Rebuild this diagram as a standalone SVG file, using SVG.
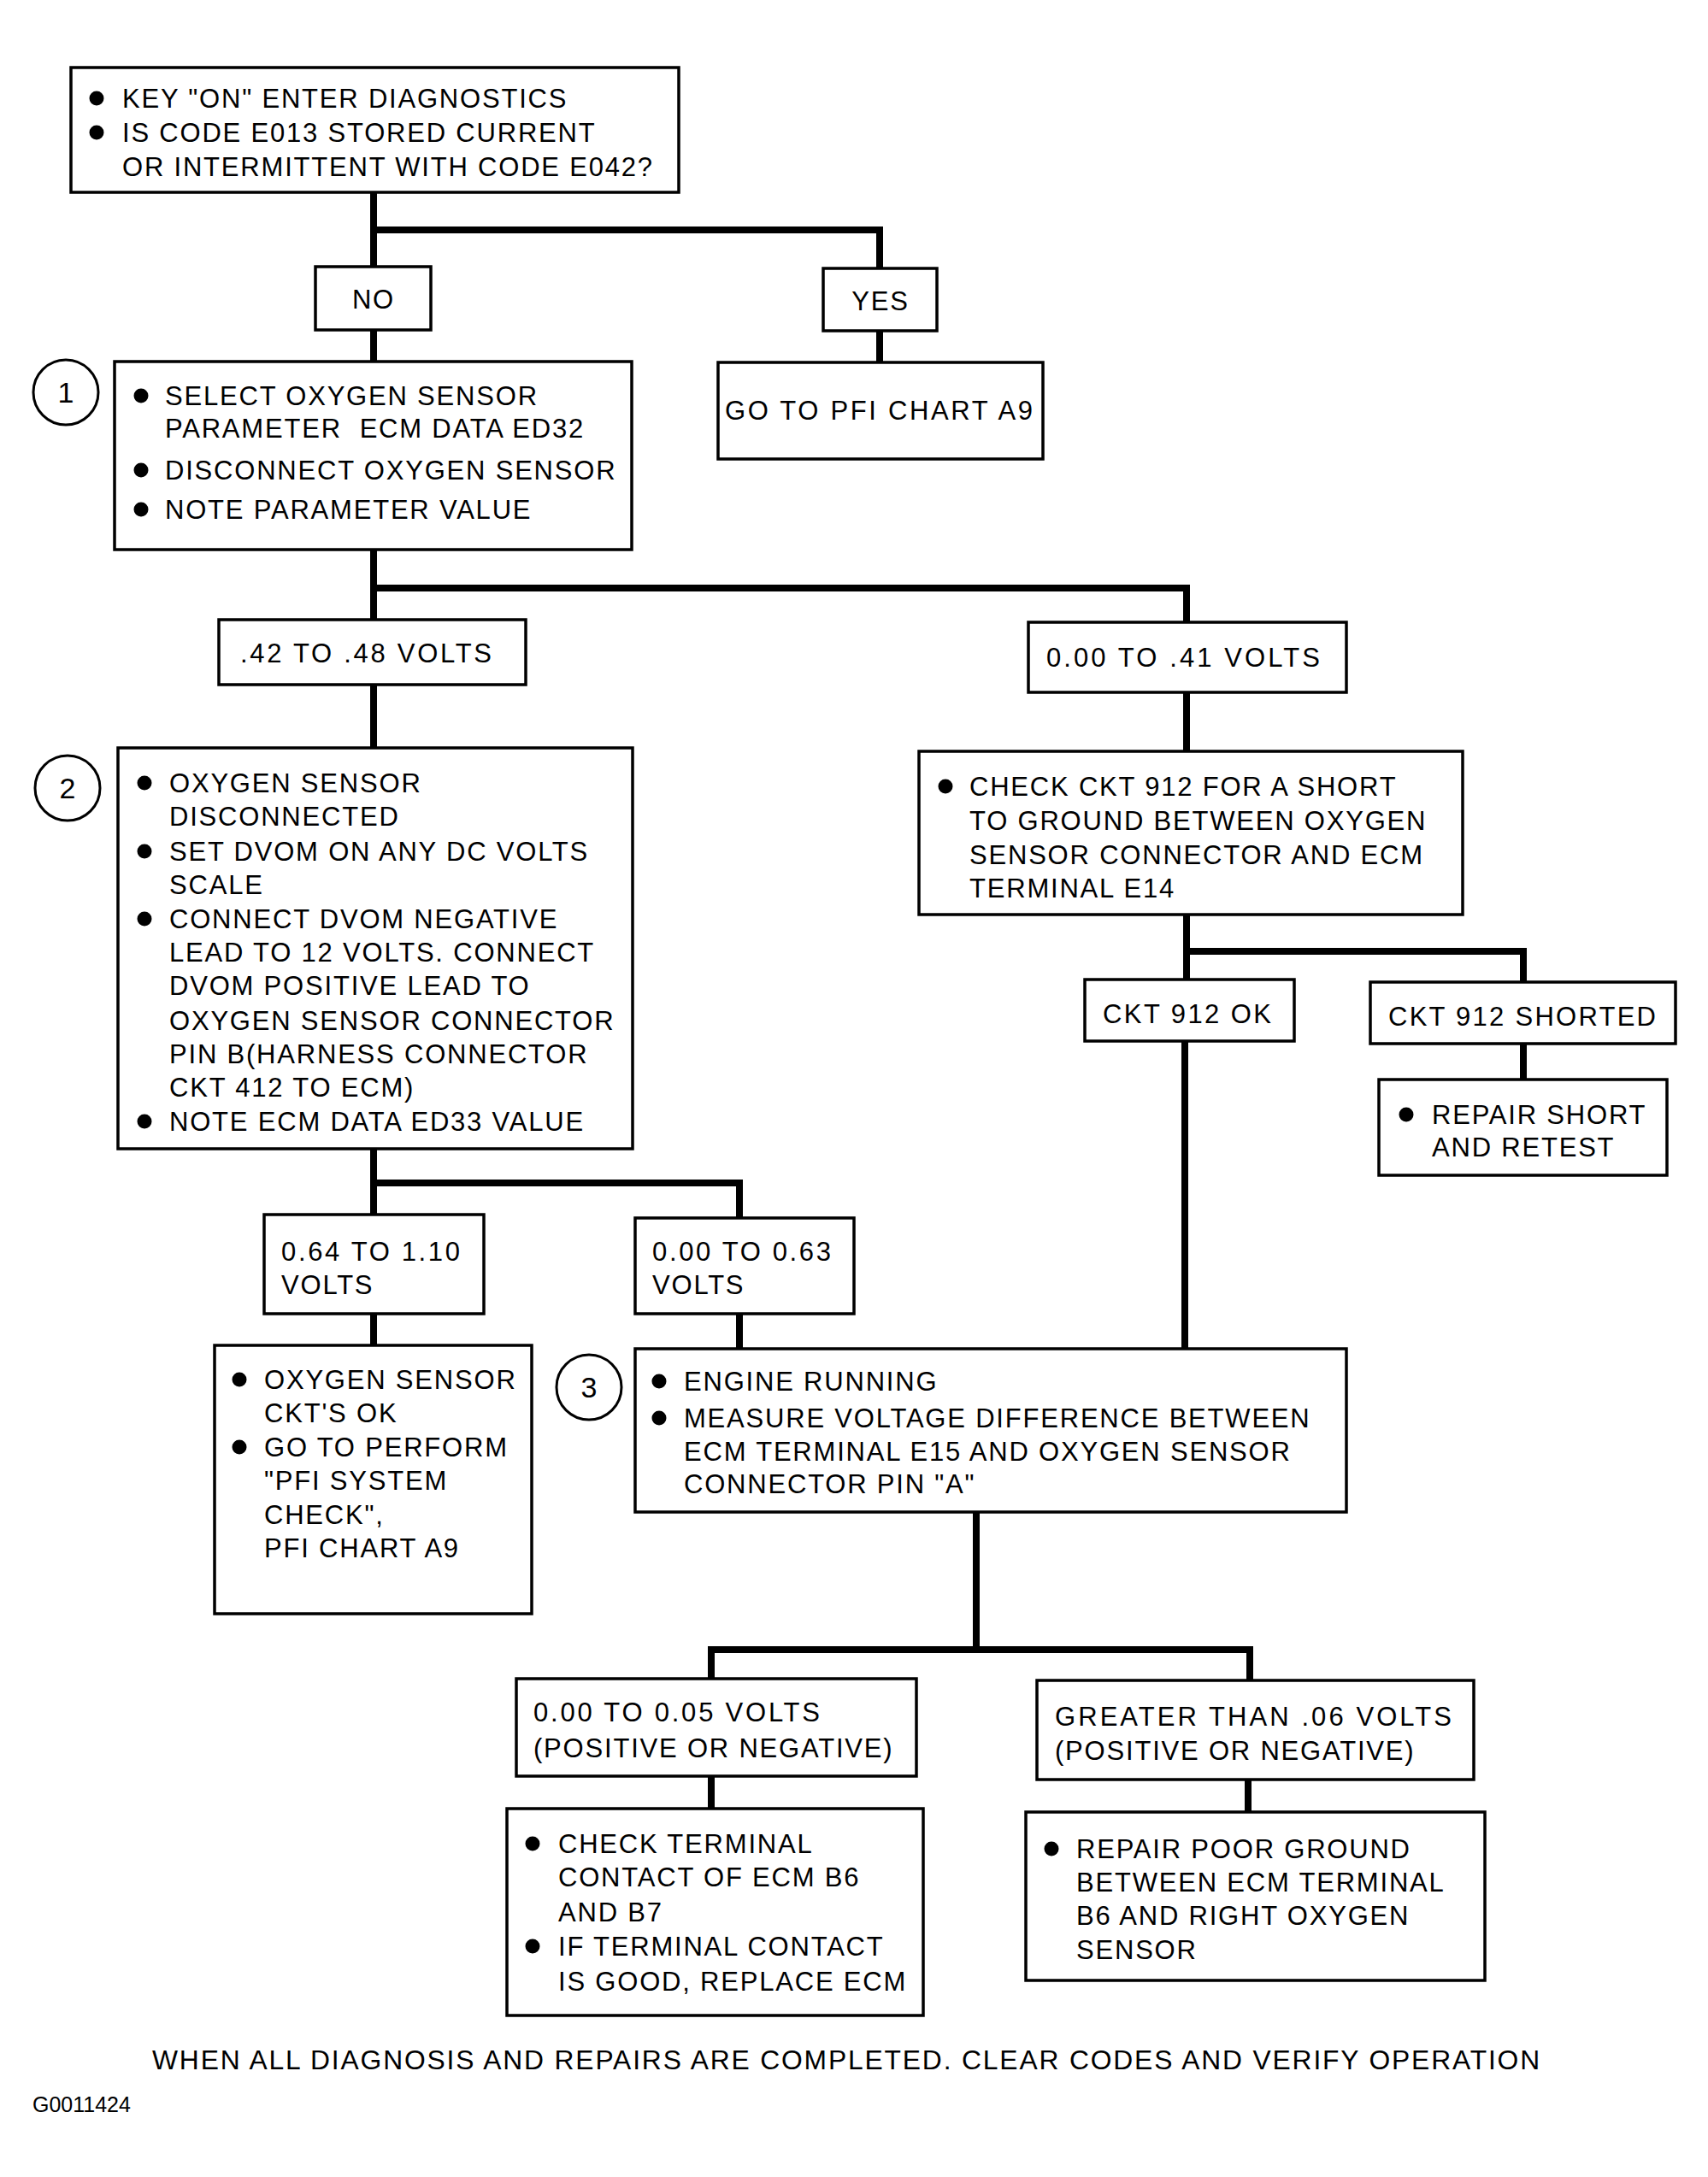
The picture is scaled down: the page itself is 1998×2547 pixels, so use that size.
<svg xmlns="http://www.w3.org/2000/svg" width="1998" height="2547" viewBox="0 0 1998 2547">
<style>
.box{fill:#fff;stroke:#000;stroke-width:3.5}
.t{font-family:"Liberation Sans",Arial,Helvetica,sans-serif;font-size:31px;letter-spacing:1.8px;fill:#000;white-space:pre}
.f{letter-spacing:0}
.m{text-anchor:middle}
.b{fill:#000}
.c{fill:none;stroke:#000;stroke-width:8;stroke-linecap:square;stroke-linejoin:miter}
.n{fill:#fff;stroke:#000;stroke-width:3}
.num{font-family:"Liberation Sans",Arial,sans-serif;font-size:34px;fill:#000;text-anchor:middle}
</style>
<rect width="1998" height="2547" fill="#fff"/>
<g id="connectors">
<path class="c" d="M437 225V312M437 269H1029V314M437 386V423M1029 387V424"/>
<path class="c" d="M437 643V725M437 688H1388V728M437 801V875M1388 810V879"/>
<path class="c" d="M1388 1070V1146M1388 1113H1782V1149M1386 1218V1578M1782 1221V1263"/>
<path class="c" d="M437 1344V1421M437 1384H865V1425M437 1537V1574M865 1537V1578"/>
<path class="c" d="M1142 1769V1930M832 1930H1462M832 1930V1964M1462 1930V1966M832 2078V2116M1460 2082V2120"/>
</g>
<g id="start">
<rect class="box" x="83" y="79" width="711" height="146"/>
<circle class="b" cx="113" cy="115" r="8.5"/><circle class="b" cx="113" cy="155" r="8.5"/>
<text class="t" x="143" y="126">KEY "ON" ENTER DIAGNOSTICS</text>
<text class="t" x="143" y="166">IS CODE E013 STORED CURRENT</text>
<text class="t" x="143" y="206">OR INTERMITTENT WITH CODE E042?</text>
</g>
<g id="no"><rect class="box" x="369" y="312" width="135" height="74"/><text class="t m" x="437" y="361">NO</text></g>
<g id="yes"><rect class="box" x="963" y="314" width="133" height="73"/><text class="t m" x="1030" y="363">YES</text></g>
<g id="goto-a9"><rect class="box" x="840" y="424" width="380" height="113"/><text class="t f" x="848" y="491" textLength="360" lengthAdjust="spacing">GO TO PFI CHART A9</text></g>
<g id="step1">
<circle class="n" cx="77" cy="459" r="38"/><text class="num" x="77" y="471">1</text>
<rect class="box" x="134" y="423" width="605" height="220"/>
<circle class="b" cx="165" cy="463" r="8.5"/><circle class="b" cx="165" cy="550" r="8.5"/><circle class="b" cx="165" cy="596" r="8.5"/>
<text class="t" x="193" y="474">SELECT OXYGEN SENSOR</text>
<text class="t" x="193" y="512">PARAMETER  ECM DATA ED32</text>
<text class="t" x="193" y="561">DISCONNECT OXYGEN SENSOR</text>
<text class="t" x="193" y="607">NOTE PARAMETER VALUE</text>
</g>
<g id="v42-48"><rect class="box" x="256" y="725" width="359" height="76"/><text class="t f" x="281" y="775" textLength="294" lengthAdjust="spacing">.42 TO .48 VOLTS</text></g>
<g id="v00-41"><rect class="box" x="1203" y="728" width="372" height="82"/><text class="t f" x="1224" y="780" textLength="320" lengthAdjust="spacing">0.00 TO .41 VOLTS</text></g>
<g id="step2">
<circle class="n" cx="79" cy="922" r="38"/><text class="num" x="79" y="934">2</text>
<rect class="box" x="138" y="875" width="602" height="469"/>
<circle class="b" cx="169" cy="916" r="8.5"/><circle class="b" cx="169" cy="996" r="8.5"/><circle class="b" cx="169" cy="1075" r="8.5"/><circle class="b" cx="169" cy="1312" r="8.5"/>
<text class="t" x="198" y="927">OXYGEN SENSOR</text>
<text class="t" x="198" y="966">DISCONNECTED</text>
<text class="t" x="198" y="1007">SET DVOM ON ANY DC VOLTS</text>
<text class="t" x="198" y="1046">SCALE</text>
<text class="t" x="198" y="1086">CONNECT DVOM NEGATIVE</text>
<text class="t" x="198" y="1125">LEAD TO 12 VOLTS. CONNECT</text>
<text class="t" x="198" y="1164">DVOM POSITIVE LEAD TO</text>
<text class="t" x="198" y="1205">OXYGEN SENSOR CONNECTOR</text>
<text class="t" x="198" y="1244">PIN B(HARNESS CONNECTOR</text>
<text class="t" x="198" y="1283">CKT 412 TO ECM)</text>
<text class="t" x="198" y="1323">NOTE ECM DATA ED33 VALUE</text>
</g>
<g id="check-912">
<rect class="box" x="1075" y="879" width="636" height="191"/>
<circle class="b" cx="1106" cy="920" r="8.5"/>
<text class="t" x="1134" y="931">CHECK CKT 912 FOR A SHORT</text>
<text class="t" x="1134" y="971">TO GROUND BETWEEN OXYGEN</text>
<text class="t" x="1134" y="1011">SENSOR CONNECTOR AND ECM</text>
<text class="t" x="1134" y="1050">TERMINAL E14</text>
</g>
<g id="ckt912-ok"><rect class="box" x="1269" y="1146" width="245" height="72"/><text class="t f" x="1290" y="1197" textLength="197" lengthAdjust="spacing">CKT 912 OK</text></g>
<g id="ckt912-shorted"><rect class="box" x="1603" y="1149" width="357" height="72"/><text class="t f" x="1624" y="1200" textLength="313" lengthAdjust="spacing">CKT 912 SHORTED</text></g>
<g id="repair-short">
<rect class="box" x="1613" y="1263" width="337" height="112"/>
<circle class="b" cx="1645" cy="1304" r="8.5"/>
<text class="t" x="1675" y="1315">REPAIR SHORT</text>
<text class="t" x="1675" y="1353">AND RETEST</text>
</g>
<g id="v064-110"><rect class="box" x="309" y="1421" width="257" height="116"/><text class="t f" x="329" y="1475" textLength="209" lengthAdjust="spacing">0.64 TO 1.10</text><text class="t" x="329" y="1514">VOLTS</text></g>
<g id="v000-063"><rect class="box" x="743" y="1425" width="256" height="112"/><text class="t f" x="763" y="1475" textLength="209" lengthAdjust="spacing">0.00 TO 0.63</text><text class="t" x="763" y="1514">VOLTS</text></g>
<g id="ckts-ok">
<rect class="box" x="251" y="1574" width="371" height="314"/>
<circle class="b" cx="280" cy="1614" r="8.5"/><circle class="b" cx="280" cy="1693" r="8.5"/>
<text class="t" x="309" y="1625">OXYGEN SENSOR</text>
<text class="t" x="309" y="1664">CKT'S OK</text>
<text class="t" x="309" y="1704">GO TO PERFORM</text>
<text class="t" x="309" y="1743">"PFI SYSTEM</text>
<text class="t" x="309" y="1783">CHECK",</text>
<text class="t" x="309" y="1822">PFI CHART A9</text>
</g>
<g id="step3">
<circle class="n" cx="689" cy="1623" r="38"/><text class="num" x="689" y="1635">3</text>
<rect class="box" x="743" y="1578" width="832" height="191"/>
<circle class="b" cx="771" cy="1616" r="8.5"/><circle class="b" cx="771" cy="1659" r="8.5"/>
<text class="t" x="800" y="1627">ENGINE RUNNING</text>
<text class="t" x="800" y="1670">MEASURE VOLTAGE DIFFERENCE BETWEEN</text>
<text class="t" x="800" y="1709">ECM TERMINAL E15 AND OXYGEN SENSOR</text>
<text class="t" x="800" y="1747">CONNECTOR PIN "A"</text>
</g>
<g id="v000-005"><rect class="box" x="604" y="1964" width="468" height="114"/><text class="t f" x="624" y="2014" textLength="335" lengthAdjust="spacing">0.00 TO 0.05 VOLTS</text><text class="t" x="624" y="2056">(POSITIVE OR NEGATIVE)</text></g>
<g id="greater-06"><rect class="box" x="1213" y="1966" width="511" height="116"/><text class="t f" x="1234" y="2019" textLength="464" lengthAdjust="spacing">GREATER THAN .06 VOLTS</text><text class="t" x="1234" y="2059">(POSITIVE OR NEGATIVE)</text></g>
<g id="check-terminal">
<rect class="box" x="593" y="2116" width="487" height="242"/>
<circle class="b" cx="623" cy="2157" r="8.5"/><circle class="b" cx="623" cy="2277" r="8.5"/>
<text class="t" x="653" y="2168">CHECK TERMINAL</text>
<text class="t" x="653" y="2207">CONTACT OF ECM B6</text>
<text class="t" x="653" y="2248">AND B7</text>
<text class="t" x="653" y="2288">IF TERMINAL CONTACT</text>
<text class="t" x="653" y="2329">IS GOOD, REPLACE ECM</text>
</g>
<g id="repair-ground">
<rect class="box" x="1200" y="2120" width="537" height="197"/>
<circle class="b" cx="1230" cy="2163" r="8.5"/>
<text class="t" x="1259" y="2174">REPAIR POOR GROUND</text>
<text class="t" x="1259" y="2213">BETWEEN ECM TERMINAL</text>
<text class="t" x="1259" y="2252">B6 AND RIGHT OXYGEN</text>
<text class="t" x="1259" y="2292">SENSOR</text>
</g>
<text class="t" x="178" y="2421" textLength="1625" lengthAdjust="spacingAndGlyphs">WHEN ALL DIAGNOSIS AND REPAIRS ARE COMPLETED. CLEAR CODES AND VERIFY OPERATION</text>
<text x="38" y="2471" style="font-family:'Liberation Sans',Arial,sans-serif;font-size:25px;fill:#000">G0011424</text>
</svg>
